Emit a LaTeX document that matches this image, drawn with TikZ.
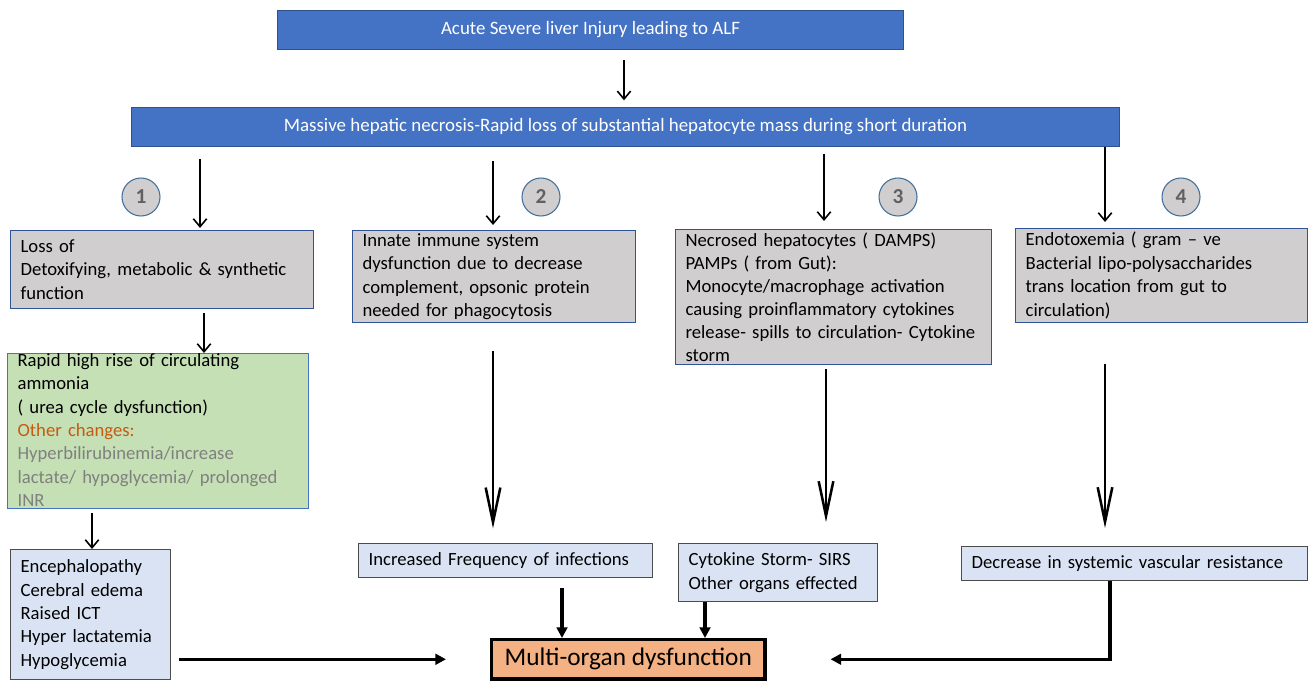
\documentclass[tikz,border=0pt]{standalone}
\usepackage{fontspec}
\setmainfont{Carlito}
\usetikzlibrary{arrows.meta, positioning}
\definecolor{hdrblue}{RGB}{68,114,196}
\definecolor{hdredge}{RGB}{47,82,143}
\definecolor{boxedge}{RGB}{47,85,151}
\definecolor{greybox}{RGB}{208,206,206}
\definecolor{greenbox}{RGB}{197,224,180}
\definecolor{bluebox}{RGB}{218,227,243}
\definecolor{orgbox}{RGB}{244,177,131}
\definecolor{orangetxt}{RGB}{197,90,17}
\definecolor{greytxt}{RGB}{128,128,128}
\definecolor{circedge}{RGB}{65,113,156}

\begin{document}
\begin{tikzpicture}[x=0.75pt, y=-0.75pt,
  hdr/.style={draw=hdredge, line width=0.8pt, fill=hdrblue, text=white, anchor=north west, minimum height=29.25pt, inner sep=0pt, font=\fontsize{14.2}{16}\selectfont},
  txtbox/.style={anchor=north west, inner xsep=7.5pt, inner ysep=0.5pt, align=left, line width=0.9pt, font=\fontsize{14}{17.6}\selectfont},
  cause/.style={txtbox, draw=boxedge, fill=greybox},
  effect/.style={txtbox, draw=black!70, fill=bluebox},
  num/.style={circle, draw=circedge, line width=0.8pt, fill=greybox, minimum size=28.5pt, inner sep=0pt, text=black!62, font=\fontsize{16}{16}\selectfont\bfseries},
  arr/.style={-{Straight Barb[length=6pt, width=10pt]}, line width=1.2pt},
  longarr/.style={-{Straight Barb[length=26pt, width=11pt]}, line width=1.9pt},
  fatarr/.style={-{Triangle[length=8pt, width=8pt]}, line width=2.3pt}
]
\useasboundingbox (0,0) rectangle (1308,681);

\node[hdr, minimum width=469.5pt] (alf) at (277,10) {Acute Severe liver Injury leading to ALF};
\node[hdr, minimum width=741pt] (mass) at (131,107) {Massive hepatic necrosis-Rapid loss of substantial hepatocyte mass during short duration};

\node[num] (n1) at (141,197) {1};
\node[num] (n2) at (541,197) {2};
\node[num] (n3) at (898,197) {3};
\node[num] (n4) at (1181,197) {4};

\node[cause, text width=212.25pt, minimum height=58.5pt] (loss) at (10,230)
  {Loss of\\Detoxifying, metabolic \& synthetic\\function};
\node[cause, text width=197.25pt, minimum height=69pt] (innate) at (352,230)
  {Innate immune system\\dysfunction due to decrease\\complement, opsonic protein\\needed for phagocytosis};
\node[cause, text width=222pt, minimum height=101.25pt, inner ysep=0pt, font=\fontsize{14}{17.3}\selectfont] (necro) at (675,229)
  {Necrosed hepatocytes ( DAMPS)\\PAMPs ( from Gut):\\Monocyte/macrophage activation\\causing proinflammatory cytokines\\release- spills to circulation- Cytokine\\storm};
\node[cause, text width=204pt, minimum height=70.5pt] (endo) at (1015,228)
  {Endotoxemia ( gram -- ve\\Bacterial lipo-polysaccharides\\trans location from gut to\\circulation)};

\node[txtbox, draw=hdrblue, fill=greenbox, minimum width=225.75pt, minimum height=116.25pt] (ammonia) at (7,353) {};
\node[txtbox, inner ysep=0pt, text width=210.75pt, font=\fontsize{14}{17.5}\selectfont] (ammoniatxt) at (ammonia.north west)
  {Rapid high rise of circulating\\ammonia\\( urea cycle dysfunction)\\\textcolor{orangetxt}{Other changes:}\\\textcolor{greytxt}{Hyperbilirubinemia/increase}\\\textcolor{greytxt}{lactate/ hypoglycemia/ prolonged}\\\textcolor{greytxt}{INR}};

\node[effect, text width=105pt, minimum height=97.5pt] (enceph) at (10,549)
  {Encephalopathy\\Cerebral edema\\Raised ICT\\Hyper lactatemia\\Hypoglycemia};
\node[effect, text width=205.5pt, minimum height=25.5pt] (infect) at (358,543)
  {Increased Frequency of infections};
\node[effect, text width=134.25pt, minimum height=43.5pt] (cyto) at (678,543)
  {Cytokine Storm- SIRS\\Other organs effected};
\node[effect, text width=244.5pt, minimum height=25.5pt] (decr) at (961,546)
  {Decrease in systemic vascular resistance};

\node[draw=black, line width=2.4pt, fill=orgbox, anchor=north west, minimum width=205pt, minimum height=29.5pt, font=\fontsize{19}{20}\selectfont] (multi) at (490,638) {Multi-organ dysfunction};

\coordinate (c1) at (200,0);
\coordinate (c2) at (493,0);
\coordinate (c3) at (824,0);
\coordinate (c4) at (1105,0);
\coordinate (c5) at (204,0);
\coordinate (c6) at (92,0);
\coordinate (c7) at (826,0);
\coordinate (c8) at (562,0);
\coordinate (c9) at (705,0);
\coordinate (c10) at (1110,0);
\coordinate (alfx) at (624,0);

\draw[arr, shorten <=7.5pt, shorten >=5pt] (alf.south -| alfx) -- (mass.north -| alfx);
\draw[arr, shorten <=9pt, shorten >=1.5pt] (mass.south -| c1) -- (loss.north -| c1);
\draw[arr, shorten <=10.5pt, shorten >=3.75pt] (mass.south -| c2) -- (innate.north -| c2);
\draw[arr, shorten <=5pt, shorten >=6pt] (mass.south -| c3) -- (necro.north -| c3);
\draw[arr, shorten >=4.5pt] (mass.south -| c4) -- (endo.north -| c4);
\draw[arr, shorten <=3pt] (loss.south -| c5) -- (ammonia.north -| c5);
\draw[arr, shorten <=3pt] (ammonia.south -| c6) -- (enceph.north -| c6);

\draw[longarr, shorten <=21pt, shorten >=11pt] (innate.south -| c2) -- (infect.north -| c2);
\draw[longarr, shorten <=3pt, shorten >=15.75pt] (necro.south -| c7) -- (cyto.north -| c7);
\draw[longarr, shorten <=30.75pt, shorten >=13.5pt] (endo.south -| c4) -- (decr.north -| c4);

\draw[fatarr, shorten <=6pt, shorten >=33pt] (enceph.east |- multi.west) -- (multi.west);
\draw[fatarr, shorten <=7.5pt] (infect.south -| c8) -- (multi.north -| c8);
\draw[fatarr] (cyto.south -| c9) -- (multi.north -| c9);
\draw[fatarr, shorten >=48pt] (decr.south -| c10) |- (multi.east);
\end{tikzpicture}
\end{document}
